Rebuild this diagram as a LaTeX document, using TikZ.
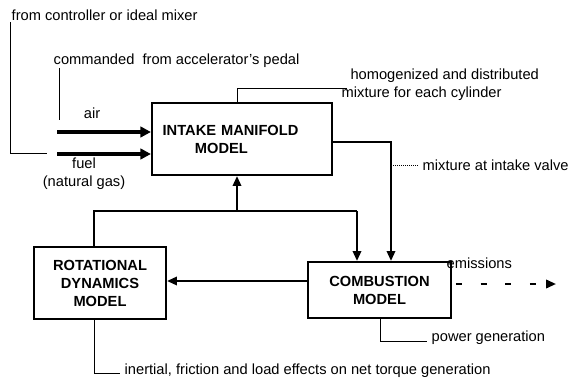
\documentclass[tikz,border=0pt]{standalone}
\usepackage{fontspec}
\setmainfont{Liberation Sans}
\usetikzlibrary{arrows.meta}

\begin{document}
\begin{tikzpicture}[x=0.75pt, y=-0.75pt,
	every node/.style={font=\fontsize{11}{13.5}\selectfont},
	block/.style={draw, line width=1.6pt, font=\fontsize{11}{13.5}\selectfont\bfseries, inner sep=0pt},
	flow/.style={line width=1.6pt, -{Triangle[length=2.6mm, width=2.2mm]}},
	feed/.style={line width=2.6pt, -{Triangle[length=2.8mm, width=2.8mm]}},
	leader/.style={line width=0.5pt}]
	\useasboundingbox (0,0) rectangle (572,378);
	% the three models
	\node[block, align=left, inner xsep=8pt, text width=119pt, minimum height=54pt] (intake) at (242,139) {INTAKE MANIFOLD\\\hspace*{2.2em}MODEL};
	\node[block, align=center, minimum width=99pt, minimum height=54pt] (rotation) at (100,283) {ROTATIONAL\\DYNAMICS\\MODEL};
	\node[block, align=center, minimum width=107pt, minimum height=42pt] (combustion) at (379.5,290) {COMBUSTION\\MODEL};
	% texts
	\node[anchor=west] (ctrl) at (7,15) {from controller or ideal mixer};
	\node[anchor=west] (pedal) at (49,61) {commanded\ \ from accelerator's pedal};
	\node (air) at (92,113) {air};
	\node[align=center] (fuel) at (84,174) {fuel\\(natural gas)};
	\node[anchor=west, align=left] (mix) at (337,84.5) {\hspace*{0.6em}homogenized and distributed\\mixture for each cylinder};
	\node[anchor=west] (valve) at (418,165) {mixture at intake valve};
	\node[anchor=west] (emis) at (442,263) {emissions};
	\node[anchor=west] (power) at (427,338) {power generation};
	\node[anchor=west] (inert) at (120,371) {inertial, friction and load effects on net torque generation};
	% inputs
	\coordinate (airin) at (57,132);
	\coordinate (fuelin) at (57,154);
	\draw[feed] (airin) -- (airin -| intake.west);
	\draw[feed] (fuelin) -- (fuelin -| intake.west);
	% mixture to combustion
	\coordinate (valvedrop) at (391,142);
	\draw[flow] (valvedrop -| intake.east) -- (valvedrop) -- (valvedrop |- combustion.north);
	% speed feedback
	\coordinate (ljoin) at (94,211);
	\coordinate (mjoin) at (237,211);
	\coordinate (rjoin) at (357,211);
	\draw[line width=1.6pt] (ljoin |- rotation.north) -- (ljoin) -- (rjoin);
	\draw[flow] (rjoin) -- (rjoin |- combustion.north);
	\draw[flow] (mjoin) -- (mjoin |- intake.south);
	\coordinate (torque) at (200,281);
	\draw[flow] (combustion.west |- torque) -- (rotation.east |- torque);
	\coordinate (exhaust) at (556,284);
	\draw[flow, dash pattern=on 4.5pt off 14pt, dash phase=-3pt] (combustion.east |- exhaust) -- (exhaust);
	% leaders
	\coordinate (ctrltop) at (10,22);
	\coordinate (ctrlend) at (47,153);
	\draw[leader] (ctrltop) |- (ctrlend);
	\coordinate (pedaltop) at (59,68);
	\coordinate (pedalend) at (59,120);
	\draw[leader] (pedaltop) -- (pedalend);
	\coordinate (mixknee) at (237,88);
	\coordinate (mixend) at (347,88);
	\draw[leader] (mixknee |- intake.north) -- (mixknee) -- (mixend);
	\coordinate (valvept) at (391,165);
	\draw[leader, densely dotted] (valvept) -- (valve.west);
	\coordinate (powerknee) at (380,341);
	\draw[leader] (powerknee |- combustion.south) -- (powerknee) -- (power.west |- powerknee);
	\coordinate (inertknee) at (94,373);
	\draw[leader] (inertknee |- rotation.south) -- (inertknee) -- (inert.west |- inertknee);
\end{tikzpicture}
\end{document}
